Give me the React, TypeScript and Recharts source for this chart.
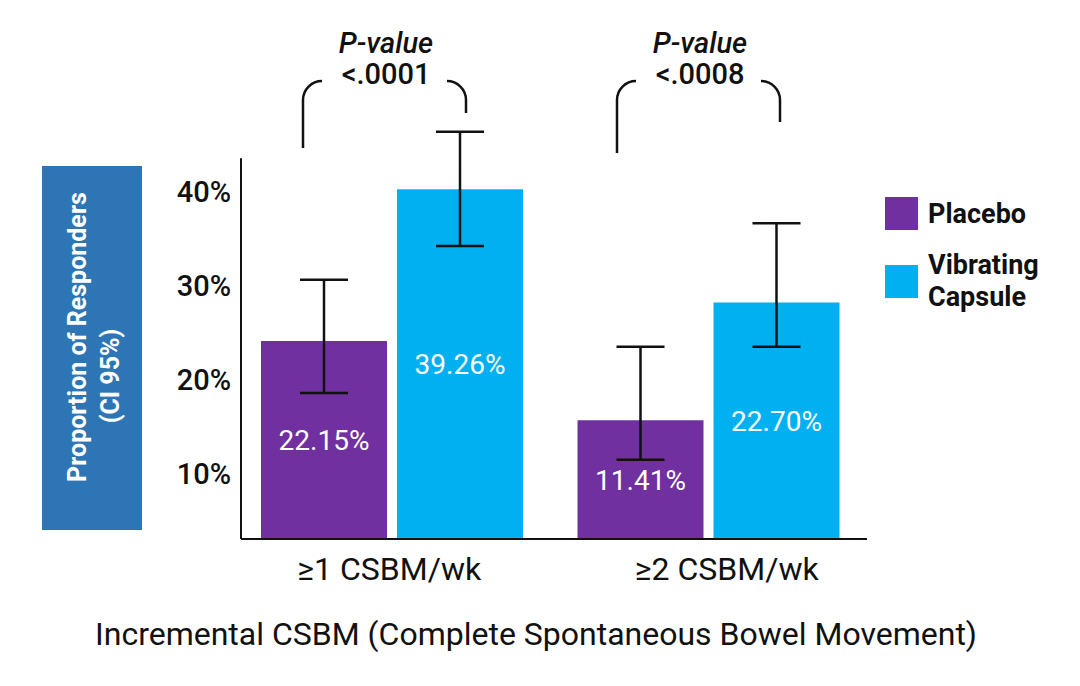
import { BarChart, Bar, XAxis, YAxis, ErrorBar, LabelList, Legend, ReferenceLine } from 'recharts';

// values (bar heights as drawn, printed labels kept separately)
const categories = ['≥1 CSBM/wk', '≥2 CSBM/wk'];
const placebo = [24.1, 15.7];
const capsule = [40.2, 28.2];
const placeboCI = [[18.6, 30.6], [11.5, 23.5]];
const capsuleCI = [[34.2, 46.3], [23.5, 36.6]];
const placeboLabels = ['22.15%', '11.41%'];
const capsuleLabels = ['39.26%', '22.70%'];
const pValues = ['<.0001', '<.0008'];
const yTicks = [10, 20, 30, 40];

const PURPLE = '#7030A0';
const BLUE = '#00B0F0';
const FONT = 'Roboto, "Noto Sans", sans-serif';
// the original nudges its category labels a little off the group centres
const TICK_SHIFT = [-3, 18];

const data = categories.map((name, i) => ({
  name,
  placebo: placebo[i],
  capsule: capsule[i],
  placeboErr: [placebo[i] - placeboCI[i][0], placeboCI[i][1] - placebo[i]],
  capsuleErr: [capsule[i] - capsuleCI[i][0], capsuleCI[i][1] - capsule[i]],
  placeboLabel: placeboLabels[i],
  capsuleLabel: capsuleLabels[i],
}));

const CategoryTick = (props: any) => {
  const { x, y, payload, index } = props;
  return (
    <text
      x={x + (TICK_SHIFT[index] || 0)}
      y={y}
      dy="0.71em"
      textAnchor="middle"
      fill="#111"
      fontSize={32}
      fontFamily={FONT}
    >
      {payload.value}
    </text>
  );
};

const renderLegend = (props: any) => {
  const { payload } = props;
  return (
    <div style={{ fontFamily: FONT, fontWeight: 700, fontSize: 27, color: '#111' }}>
      {payload.map((entry: any, i: number) => (
        <div
          key={entry.value}
          style={{ display: 'flex', alignItems: 'center', marginBottom: i === 0 ? 19 : 0 }}
        >
          <div style={{ width: 33, height: 33, background: entry.color, flexShrink: 0, marginRight: 10 }} />
          <div style={{ width: 135, lineHeight: '32px' }}>{entry.value}</div>
        </div>
      ))}
    </div>
  );
};

// y-title box, brackets + p-values, x title
function Annotations() {
  const groups = [
    { left: 303, leftBottom: 148, right: 466, rightBottom: 113, textX: 386 },
    { left: 617, leftBottom: 153, right: 780, rightBottom: 122, textX: 700 },
  ];
  return (
    <svg
      width={1080}
      height={686}
      style={{ position: 'absolute', left: 0, top: 0, pointerEvents: 'none' }}
    >
      <rect x={42} y={166} width={100} height={364} fill="#2E75B6" />
      <text
        transform="rotate(-90 77 337)"
        x={77}
        y={337}
        textAnchor="middle"
        dominantBaseline="central"
        fill="#fff"
        fontFamily={FONT}
        fontWeight={700}
        fontSize={25}
      >
        Proportion of Responders
      </text>
      <text
        transform="rotate(-90 110 376)"
        x={110}
        y={376}
        textAnchor="middle"
        dominantBaseline="central"
        fill="#fff"
        fontFamily={FONT}
        fontWeight={700}
        fontSize={25}
      >
        (CI 95%)
      </text>

      {groups.map((g, i) => (
        <g key={i} fill="none" stroke="#111" strokeWidth={2.5}>
          <path d={`M${g.left} ${g.leftBottom} V100 A19 19 0 0 1 ${g.left + 19} 81`} />
          <path d={`M${g.right - 19} 81 A19 19 0 0 1 ${g.right} 100 V${g.rightBottom}`} />
          <text
            x={g.textX}
            y={53}
            textAnchor="middle"
            stroke="none"
            fill="#111"
            fontFamily={FONT}
            fontStyle="italic"
            fontWeight={500}
            fontSize={29}
          >
            P-value
          </text>
          <text
            x={g.textX}
            y={84}
            textAnchor="middle"
            stroke="none"
            fill="#111"
            fontFamily={FONT}
            fontWeight={500}
            fontSize={29}
          >
            {pValues[i]}
          </text>
        </g>
      ))}

      <text
        x={536}
        y={645}
        textAnchor="middle"
        fill="#111"
        fontFamily={FONT}
        fontSize={32}
      >
        Incremental CSBM (Complete Spontaneous Bowel Movement)
      </text>
    </svg>
  );
}

export default function App() {
  return (
    <div style={{ position: 'absolute', left: 0, top: 0, width: 1080, height: 686, background: '#fff' }}>
      <BarChart
        width={1080}
        height={686}
        data={data}
        margin={{ top: 97, right: 213, bottom: 117, left: 181 }}
        barSize={126}
        barGap={10}
        style={{ fontFamily: FONT }}
      >
        <XAxis
          dataKey="name"
          height={30}
          padding={{ left: -7, right: 0 }}
          axisLine={{ stroke: '#111', strokeWidth: 2 }}
          tickLine={false}
          tickMargin={12}
          tick={<CategoryTick />}
        />
        <XAxis xAxisId="frame" type="number" domain={[0, 1]} hide />
        <YAxis
          width={60}
          domain={[3.1, 50]}
          ticks={yTicks}
          tickFormatter={(v: number) => `${v}%`}
          axisLine={false}
          tickLine={false}
          tickSize={0}
          tickMargin={10}
          tick={{ fill: '#111', fontSize: 29, fontWeight: 500, fontFamily: FONT }}
        />
        <ReferenceLine
          xAxisId="frame"
          segment={[{ x: 0, y: 3.1 }, { x: 0, y: 43.5 }]}
          stroke="#111"
          strokeWidth={2}
        />
        <Legend
          layout="horizontal"
          verticalAlign="middle"
          align="center"
          content={renderLegend}
          wrapperStyle={{ left: 885, top: 197, width: 190 }}
        />
        <Bar dataKey="placebo" name="Placebo" fill={PURPLE} isAnimationActive={false}>
          <LabelList
            dataKey="placeboLabel"
            position="center"
            fill="#fff"
            fontSize={28}
            fontFamily={FONT}
          />
          <ErrorBar dataKey="placeboErr" width={24} stroke="#111" strokeWidth={2.5} />
        </Bar>
        <Bar dataKey="capsule" name="Vibrating Capsule" fill={BLUE} isAnimationActive={false}>
          <LabelList
            dataKey="capsuleLabel"
            position="center"
            fill="#fff"
            fontSize={28}
            fontFamily={FONT}
          />
          <ErrorBar dataKey="capsuleErr" width={24} stroke="#111" strokeWidth={2.5} />
        </Bar>
      </BarChart>
      <Annotations />
    </div>
  );
}
